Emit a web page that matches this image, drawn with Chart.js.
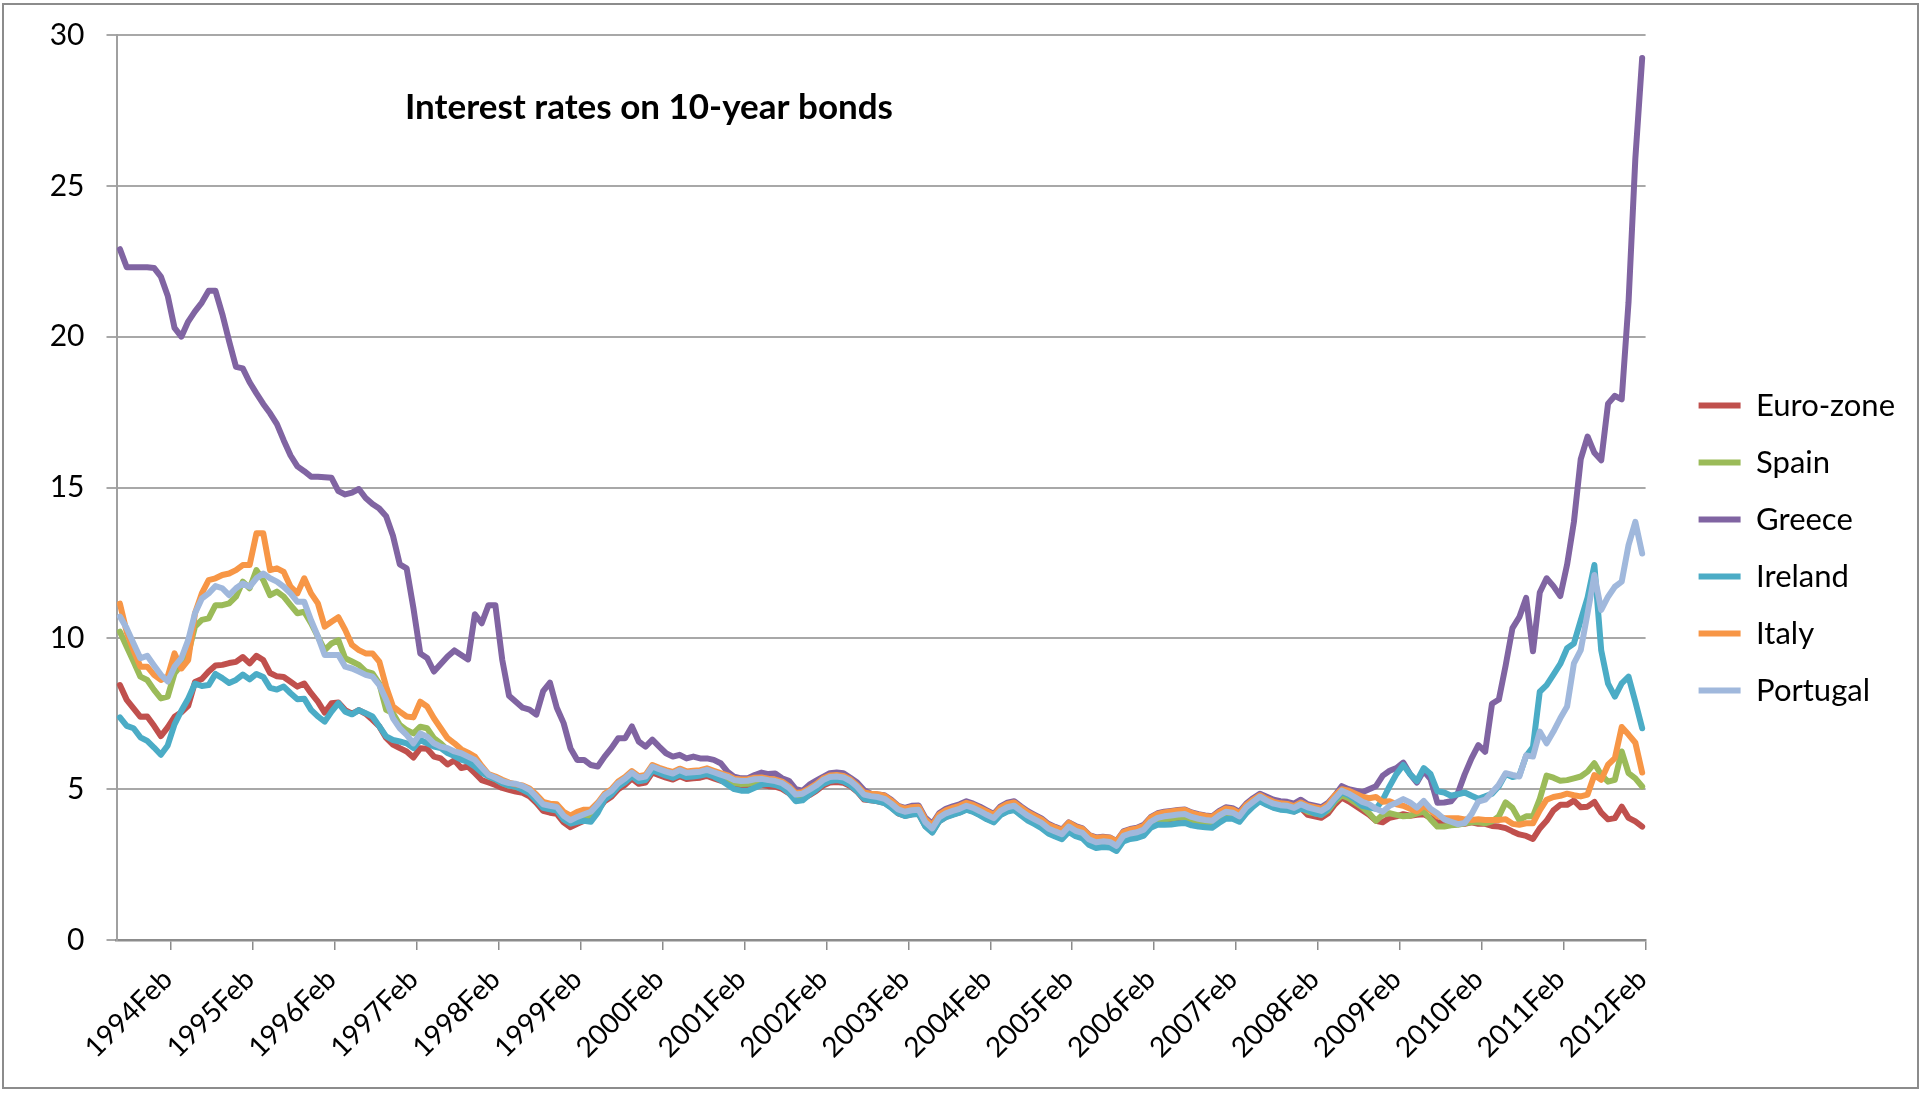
<!DOCTYPE html>
<html><head><meta charset="utf-8">
<script src="https://cdn.jsdelivr.net/npm/chart.js@4.4.1/dist/chart.umd.min.js"></script>
<style>html,body{margin:0;padding:0;background:#fff;}canvas{display:block;}</style>
</head><body>
<canvas id="c" width="1923" height="1095"></canvas>
<script>
const titleText = 'Interest rates on 10-year bonds';
const monthNames = ['Jan','Feb','Mar','Apr','May','Jun','Jul','Aug','Sep','Oct','Nov','Dec'];
const firstYear = 1993, firstMonth = 6, monthCount = 224; // 1993Jul .. 2012Feb
const categories = [];
for (let k = 0; k < monthCount; k++) {
  const m = firstMonth + k;
  categories.push((firstYear + Math.floor(m / 12)) + monthNames[m % 12]);
}
const tickLabels = ['1994Feb','1995Feb','1996Feb','1997Feb','1998Feb','1999Feb','2000Feb','2001Feb','2002Feb','2003Feb',
  '2004Feb','2005Feb','2006Feb','2007Feb','2008Feb','2009Feb','2010Feb','2011Feb','2012Feb'];
const seriesNames = ['Euro-zone','Spain','Greece','Ireland','Italy','Portugal'];

const euroZone = [
 8.45,7.96,7.68,7.40,7.41,7.10,6.76,7.05,7.40,7.55,7.76,8.55,
 8.65,8.90,9.10,9.12,9.18,9.22,9.38,9.17,9.42,9.28,8.85,8.74,
 8.72,8.56,8.40,8.50,8.18,7.90,7.54,7.85,7.87,7.62,7.50,7.62,
 7.50,7.30,7.08,6.70,6.48,6.36,6.25,6.05,6.36,6.34,6.08,6.02,
 5.82,5.96,5.70,5.75,5.53,5.30,5.22,5.14,5.04,4.98,4.92,4.88,
 4.76,4.55,4.28,4.22,4.18,3.90,3.74,3.85,3.95,4.05,4.30,4.60,
 4.75,5.00,5.15,5.35,5.18,5.22,5.55,5.46,5.38,5.32,5.43,5.34,
 5.36,5.38,5.44,5.36,5.28,5.21,5.10,5.07,5.08,5.13,5.14,5.10,
 5.08,5.01,4.87,4.65,4.68,4.80,4.94,5.12,5.22,5.24,5.21,5.10,
 4.92,4.66,4.63,4.60,4.55,4.40,4.20,4.12,4.17,4.19,3.78,3.58,
 3.94,4.08,4.16,4.23,4.33,4.26,4.15,4.03,3.92,4.16,4.28,4.33,
 4.16,4.00,3.88,3.76,3.58,3.48,3.39,3.64,3.50,3.43,3.21,3.12,
 3.15,3.13,3.00,3.33,3.41,3.45,3.54,3.80,3.93,3.98,4.01,4.04,
 4.06,3.96,3.90,3.86,3.83,4.00,4.13,4.10,3.98,4.28,4.46,4.63,
 4.50,4.40,4.35,4.33,4.26,4.38,4.15,4.10,4.05,4.20,4.50,4.72,
 4.60,4.45,4.30,4.15,3.95,3.90,4.05,4.10,4.17,4.12,4.15,4.17,
 4.05,3.90,3.88,3.85,3.85,3.85,3.90,3.85,3.85,3.78,3.76,3.71,
 3.60,3.50,3.45,3.35,3.70,3.95,4.30,4.48,4.48,4.62,4.40,4.42,
 4.58,4.22,4.00,4.04,4.42,4.05,3.93,3.76];

const spain = [
 10.22,9.72,9.23,8.73,8.62,8.29,8.01,8.07,8.84,9.12,9.50,10.39,
 10.61,10.66,11.10,11.10,11.16,11.38,11.88,11.66,12.26,11.93,11.43,11.55,
 11.38,11.10,10.83,10.88,10.50,10.06,9.61,9.83,9.94,9.34,9.23,9.12,
 8.90,8.84,8.50,7.63,7.52,7.13,6.96,6.85,7.07,7.02,6.69,6.52,
 6.30,6.14,6.08,6.00,5.90,5.60,5.42,5.33,5.20,5.12,5.08,5.00,
 4.88,4.65,4.40,4.35,4.31,4.02,3.87,3.98,4.07,4.15,4.40,4.70,
 4.85,5.10,5.25,5.45,5.28,5.32,5.65,5.56,5.48,5.42,5.53,5.44,
 5.46,5.48,5.54,5.46,5.38,5.31,5.20,5.17,5.18,5.23,5.24,5.20,
 5.17,5.10,4.95,4.72,4.75,4.88,5.02,5.20,5.30,5.32,5.29,5.17,
 4.98,4.72,4.67,4.64,4.58,4.42,4.23,4.15,4.20,4.22,3.80,3.60,
 3.96,4.10,4.18,4.25,4.35,4.28,4.17,4.05,3.94,4.18,4.30,4.35,
 4.18,4.02,3.90,3.78,3.60,3.50,3.41,3.66,3.52,3.45,3.23,3.14,
 3.17,3.15,3.02,3.35,3.43,3.47,3.56,3.82,3.95,4.00,4.03,4.06,
 4.08,3.98,3.92,3.88,3.85,4.02,4.15,4.12,4.00,4.30,4.48,4.65,
 4.52,4.42,4.37,4.35,4.28,4.40,4.25,4.20,4.15,4.30,4.60,4.80,
 4.70,4.55,4.40,4.20,3.95,4.15,4.20,4.15,4.10,4.12,4.20,4.26,
 4.00,3.76,3.76,3.80,3.82,3.87,3.90,3.90,3.87,3.93,4.10,4.56,
 4.38,3.98,4.10,4.10,4.68,5.45,5.38,5.28,5.30,5.36,5.42,5.58,
 5.86,5.47,5.25,5.31,6.25,5.53,5.36,5.09];

const greece = [
 22.90,22.30,22.30,22.30,22.30,22.28,21.99,21.36,20.29,20.00,20.50,20.84,
 21.13,21.52,21.52,20.75,19.85,19.00,18.95,18.49,18.12,17.77,17.46,17.10,
 16.56,16.06,15.70,15.54,15.36,15.36,15.34,15.32,14.88,14.77,14.83,14.95,
 14.65,14.45,14.30,14.05,13.40,12.45,12.32,11.00,9.50,9.35,8.90,9.15,
 9.40,9.60,9.45,9.30,10.80,10.50,11.10,11.10,9.30,8.10,7.90,7.70,
 7.64,7.47,8.25,8.53,7.70,7.19,6.36,5.97,5.97,5.80,5.75,6.08,
 6.36,6.69,6.69,7.08,6.58,6.41,6.64,6.41,6.19,6.08,6.14,6.02,
 6.08,6.02,6.02,5.97,5.86,5.58,5.41,5.36,5.36,5.47,5.55,5.50,
 5.52,5.36,5.28,5.00,4.95,5.15,5.28,5.41,5.53,5.55,5.53,5.38,
 5.22,4.97,4.85,4.82,4.80,4.65,4.45,4.38,4.45,4.46,4.05,3.85,
 4.20,4.35,4.43,4.50,4.60,4.52,4.42,4.30,4.18,4.43,4.55,4.60,
 4.43,4.27,4.15,4.03,3.85,3.75,3.66,3.90,3.78,3.70,3.48,3.40,
 3.42,3.40,3.28,3.60,3.68,3.72,3.82,4.07,4.20,4.25,4.28,4.31,
 4.33,4.23,4.17,4.13,4.10,4.27,4.40,4.37,4.25,4.52,4.70,4.85,
 4.75,4.65,4.60,4.58,4.52,4.65,4.50,4.45,4.40,4.55,4.80,5.10,
 5.00,4.95,4.90,5.00,5.10,5.45,5.61,5.70,5.88,5.50,5.22,5.61,
 5.33,4.55,4.56,4.60,4.87,5.49,6.02,6.46,6.24,7.83,7.97,9.10,
 10.34,10.70,11.34,9.57,11.52,11.99,11.73,11.40,12.44,13.86,15.94,16.69,
 16.15,15.90,17.78,18.04,17.92,21.14,25.91,29.24];

const ireland = [
 7.38,7.10,7.02,6.72,6.60,6.38,6.14,6.45,7.15,7.60,8.00,8.50,
 8.42,8.45,8.82,8.68,8.52,8.62,8.80,8.64,8.82,8.72,8.36,8.30,
 8.40,8.18,7.98,8.00,7.63,7.41,7.24,7.57,7.85,7.57,7.48,7.62,
 7.52,7.41,7.08,6.75,6.63,6.58,6.52,6.36,6.63,6.52,6.41,6.36,
 6.20,6.10,5.98,5.90,5.75,5.55,5.42,5.33,5.20,5.12,5.08,4.98,
 4.86,4.63,4.38,4.33,4.29,4.00,3.86,3.92,3.95,3.92,4.22,4.65,
 4.82,5.08,5.23,5.43,5.26,5.30,5.62,5.54,5.45,5.38,5.48,5.40,
 5.42,5.45,5.50,5.42,5.30,5.15,5.00,4.95,4.95,5.05,5.15,5.18,
 5.14,5.06,4.88,4.60,4.63,4.82,4.98,5.17,5.27,5.30,5.26,5.13,
 4.93,4.68,4.63,4.60,4.54,4.38,4.20,4.11,4.16,4.18,3.76,3.56,
 3.93,4.07,4.15,4.22,4.32,4.25,4.13,4.00,3.90,4.14,4.26,4.31,
 4.13,3.96,3.84,3.71,3.53,3.43,3.34,3.58,3.44,3.37,3.15,3.05,
 3.08,3.07,2.95,3.27,3.35,3.38,3.46,3.72,3.82,3.82,3.83,3.86,
 3.88,3.80,3.76,3.74,3.72,3.88,4.02,4.02,3.92,4.20,4.42,4.60,
 4.48,4.38,4.32,4.30,4.25,4.35,4.30,4.20,4.15,4.35,4.65,4.90,
 4.80,4.65,4.45,4.40,4.35,4.65,5.10,5.50,5.80,5.50,5.27,5.70,
 5.50,4.93,4.89,4.78,4.83,4.89,4.78,4.68,4.76,4.85,5.10,5.50,
 5.40,5.45,6.10,6.40,8.23,8.45,8.80,9.15,9.67,9.83,10.60,11.35,
 12.43,9.60,8.50,8.07,8.51,8.73,7.90,7.02];

const italy = [
 11.15,10.20,9.60,9.06,9.06,8.79,8.62,8.73,9.50,9.00,9.28,10.83,
 11.49,11.93,11.99,12.10,12.15,12.26,12.43,12.43,13.48,13.48,12.26,12.32,
 12.20,11.71,11.49,11.99,11.49,11.16,10.39,10.55,10.70,10.28,9.78,9.61,
 9.50,9.50,9.23,8.40,7.74,7.57,7.41,7.38,7.90,7.74,7.35,7.02,
 6.69,6.52,6.32,6.21,6.08,5.77,5.50,5.42,5.31,5.22,5.16,5.12,
 5.02,4.82,4.58,4.52,4.50,4.25,4.12,4.25,4.32,4.33,4.55,4.85,
 5.00,5.25,5.40,5.60,5.43,5.47,5.80,5.71,5.63,5.57,5.68,5.59,
 5.61,5.63,5.69,5.61,5.53,5.46,5.35,5.32,5.33,5.38,5.39,5.35,
 5.32,5.25,5.10,4.87,4.90,5.03,5.17,5.35,5.45,5.47,5.44,5.32,
 5.13,4.89,4.85,4.83,4.78,4.62,4.43,4.35,4.40,4.42,4.00,3.80,
 4.16,4.30,4.38,4.45,4.55,4.48,4.37,4.26,4.15,4.39,4.51,4.56,
 4.39,4.23,4.11,4.00,3.82,3.73,3.64,3.89,3.75,3.68,3.47,3.38,
 3.41,3.39,3.27,3.58,3.66,3.70,3.79,4.05,4.18,4.23,4.26,4.29,
 4.31,4.21,4.15,4.11,4.08,4.24,4.36,4.33,4.20,4.48,4.65,4.80,
 4.68,4.58,4.53,4.51,4.44,4.56,4.45,4.40,4.35,4.50,4.80,5.00,
 4.95,4.85,4.75,4.70,4.74,4.58,4.60,4.50,4.45,4.35,4.26,4.45,
 4.30,4.10,4.04,4.04,4.04,4.00,3.98,4.00,3.98,3.98,3.98,4.00,
 3.85,3.82,3.87,3.87,4.30,4.65,4.74,4.78,4.85,4.80,4.76,4.82,
 5.47,5.31,5.81,6.03,7.06,6.81,6.54,5.55];

const portugal = [
 10.72,10.33,9.83,9.34,9.42,9.10,8.79,8.57,9.06,9.34,9.94,10.83,
 11.32,11.49,11.73,11.66,11.43,11.66,11.82,11.71,11.99,12.15,11.99,11.88,
 11.71,11.49,11.21,11.21,10.60,10.06,9.45,9.45,9.45,9.06,9.00,8.90,
 8.79,8.73,8.45,7.96,7.35,7.02,6.80,6.52,6.85,6.74,6.52,6.41,
 6.36,6.25,6.19,6.08,5.97,5.72,5.48,5.38,5.27,5.20,5.18,5.10,
 4.98,4.75,4.50,4.45,4.41,4.12,3.97,4.08,4.17,4.25,4.50,4.80,
 4.95,5.20,5.35,5.55,5.38,5.42,5.75,5.66,5.58,5.52,5.63,5.54,
 5.56,5.58,5.64,5.56,5.48,5.41,5.30,5.27,5.28,5.33,5.34,5.30,
 5.27,5.20,5.05,4.82,4.85,4.98,5.12,5.30,5.40,5.42,5.39,5.27,
 5.08,4.82,4.77,4.74,4.68,4.52,4.33,4.25,4.30,4.32,3.90,3.70,
 4.06,4.20,4.28,4.35,4.45,4.38,4.27,4.15,4.04,4.28,4.40,4.45,
 4.28,4.12,4.00,3.88,3.70,3.60,3.51,3.76,3.62,3.55,3.33,3.24,
 3.27,3.25,3.12,3.45,3.53,3.57,3.66,3.92,4.05,4.10,4.13,4.16,
 4.18,4.08,4.02,3.98,3.95,4.12,4.25,4.22,4.10,4.40,4.58,4.75,
 4.62,4.52,4.47,4.45,4.38,4.50,4.40,4.34,4.28,4.42,4.70,4.95,
 4.85,4.72,4.58,4.50,4.35,4.25,4.45,4.55,4.67,4.56,4.39,4.61,
 4.35,4.20,4.00,3.92,3.84,3.88,4.17,4.59,4.65,4.90,5.15,5.53,
 5.47,5.42,6.12,6.08,6.91,6.52,6.91,7.35,7.74,9.17,9.61,10.83,
 12.10,10.94,11.38,11.71,11.88,13.09,13.86,12.81];

const seriesValues = [euroZone, spain, greece, ireland, italy, portugal];
const seriesColors = ['#C0504D','#9BBB59','#8064A2','#4BACC6','#F79646','#A0B8DC'];
const drawOrder = [6, 5, 4, 3, 2, 1]; // Portugal drawn last (on top), like the original

const FONT = 'Lato, Carlito, Calibri, sans-serif';

const chrome = {
  id: 'chrome',
  beforeDraw(chart) {
    const c = chart.ctx; c.save(); c.fillStyle = '#fff'; c.fillRect(0, 0, chart.width, chart.height); c.restore();
  },
  afterDraw(chart) {
    const c = chart.ctx; c.save();
    c.strokeStyle = '#8c8c8c'; c.lineWidth = 2; c.strokeRect(3, 4, 1915, 1084);
    c.fillStyle = '#000'; c.font = 'bold 35px ' + FONT; c.textBaseline = 'alphabetic'; c.textAlign = 'left';
    c.fillText(titleText, 405, 119);
    c.restore();
  }
};

new Chart(document.getElementById('c'), {
  type: 'line',
  data: {
    labels: categories,
    datasets: seriesNames.map((name, k) => ({
      label: name, data: seriesValues[k], borderColor: seriesColors[k], backgroundColor: seriesColors[k],
      borderWidth: 6, pointRadius: 0, pointHoverRadius: 0, tension: 0, fill: false,
      borderJoinStyle: 'round', borderCapStyle: 'round', order: drawOrder[k]
    }))
  },
  options: {
    responsive: false, animation: false, devicePixelRatio: 1,
    layout: { padding: { left: 0, top: 35, right: 18, bottom: 34 } },
    plugins: {
      legend: {
        position: 'right', align: 'center',
        labels: {
          usePointStyle: true, pointStyle: 'line', pointStyleWidth: 42, padding: 26, color: '#000',
          font: { family: FONT, size: 31 },
          sort: (a, b) => a.datasetIndex - b.datasetIndex
        }
      },
      tooltip: { enabled: false },
      title: { display: false }
    },
    scales: {
      x: {
        type: 'category', offset: true,
        grid: {
          display: true, offset: true, drawOnChartArea: false, drawTicks: true, tickLength: 10, lineWidth: 1.5,
          color: (ctx) => (ctx.index === undefined || ctx.index % 12 === 8) ? '#8c8c8c' : 'rgba(0,0,0,0)'
        },
        border: { display: true, color: '#8c8c8c', width: 2.5 },
        ticks: {
          autoSkip: false, minRotation: 45, maxRotation: 45, padding: 13, color: '#000',
          font: { family: FONT, size: 28 },
          callback: (value, index) => tickLabels.includes(categories[index]) ? categories[index] : ''
        },
        afterFit: (s) => { s.height = 121; }
      },
      y: {
        min: 0, max: 30,
        ticks: { stepSize: 5, padding: 22, color: '#000', font: { family: FONT, size: 30 } },
        grid: { color: '#a8a8a8', lineWidth: 2, drawTicks: true, tickLength: 10 },
        border: { display: true, color: '#a0a0a0', width: 2 },
        afterFit: (s) => { s.width = 116.5; s.paddingTop = 0; s.paddingBottom = 0; }
      },
      spacer: {
        type: 'linear', position: 'right', display: true,
        grid: { display: false, drawTicks: false }, ticks: { display: false }, border: { display: false },
        afterFit: (s) => { s.width = 27; }
      }
    }
  },
  plugins: [chrome]
});
</script>
</body></html>
